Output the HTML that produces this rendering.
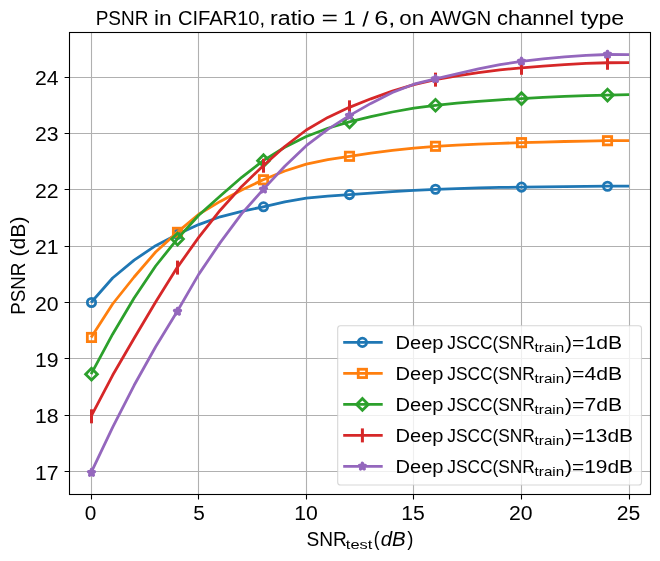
<!DOCTYPE html><html><head><meta charset="utf-8"><style>html,body{margin:0;padding:0;background:#fff;width:660px;height:561px;overflow:hidden}text{font-family:"Liberation Sans",sans-serif}</style></head><body><svg width="660" height="561" viewBox="0 0 660 561" style="display:block;will-change:transform">
<rect width="660" height="561" fill="#ffffff"/>
<path d="M91.50,32.5 V494.5 M198.50,32.5 V494.5 M306.50,32.5 V494.5 M413.50,32.5 V494.5 M521.50,32.5 V494.5 M629.50,32.5 V494.5 M69.5,471.50 H650.5 M69.5,415.50 H650.5 M69.5,358.50 H650.5 M69.5,302.50 H650.5 M69.5,246.50 H650.5 M69.5,189.50 H650.5 M69.5,133.50 H650.5 M69.5,77.50 H650.5" stroke="#b0b0b0" stroke-width="1.1" fill="none"/>
<path d="M91.10,302.50 L112.62,278.00 L134.14,260.10 L155.66,245.70 L177.18,234.39 L198.70,224.60 L220.22,216.80 L241.74,211.40 L263.26,206.81 L284.78,201.98 L306.30,198.20 L327.82,196.15 L349.34,194.59 L370.86,193.04 L392.38,191.56 L413.90,190.27 L435.42,189.30 L456.94,188.58 L478.46,187.97 L499.98,187.48 L521.50,187.11 L543.02,186.80 L564.54,186.53 L586.06,186.32 L607.58,186.20 L629.10,186.20" stroke="#1f77b4" stroke-width="2.78" fill="none" stroke-linejoin="round" stroke-linecap="butt"/>
<circle cx="91.50" cy="302.50" r="4.17" fill="none" stroke="#1f77b4" stroke-width="2.78"/>
<circle cx="177.50" cy="234.39" r="4.17" fill="none" stroke="#1f77b4" stroke-width="2.78"/>
<circle cx="263.50" cy="206.81" r="4.17" fill="none" stroke="#1f77b4" stroke-width="2.78"/>
<circle cx="349.50" cy="194.59" r="4.17" fill="none" stroke="#1f77b4" stroke-width="2.78"/>
<circle cx="435.50" cy="189.30" r="4.17" fill="none" stroke="#1f77b4" stroke-width="2.78"/>
<circle cx="521.50" cy="187.11" r="4.17" fill="none" stroke="#1f77b4" stroke-width="2.78"/>
<circle cx="607.50" cy="186.20" r="4.17" fill="none" stroke="#1f77b4" stroke-width="2.78"/>
<path d="M91.10,337.46 L112.62,304.00 L134.14,277.00 L155.66,252.00 L177.18,232.36 L198.70,214.30 L220.22,201.40 L241.74,189.90 L263.26,179.79 L284.78,170.97 L306.30,164.10 L327.82,159.69 L349.34,156.31 L370.86,153.24 L392.38,150.41 L413.90,148.03 L435.42,146.30 L456.94,145.09 L478.46,144.11 L499.98,143.31 L521.50,142.64 L543.02,142.03 L564.54,141.50 L586.06,141.05 L607.58,140.72 L629.10,140.54" stroke="#ff7f0e" stroke-width="2.78" fill="none" stroke-linejoin="round" stroke-linecap="butt"/>
<rect x="87.33" y="333.29" width="8.33" height="8.33" fill="none" stroke="#ff7f0e" stroke-width="2.78"/>
<rect x="173.34" y="228.20" width="8.33" height="8.33" fill="none" stroke="#ff7f0e" stroke-width="2.78"/>
<rect x="259.33" y="175.62" width="8.33" height="8.33" fill="none" stroke="#ff7f0e" stroke-width="2.78"/>
<rect x="345.33" y="152.15" width="8.33" height="8.33" fill="none" stroke="#ff7f0e" stroke-width="2.78"/>
<rect x="431.33" y="142.13" width="8.33" height="8.33" fill="none" stroke="#ff7f0e" stroke-width="2.78"/>
<rect x="517.34" y="138.47" width="8.33" height="8.33" fill="none" stroke="#ff7f0e" stroke-width="2.78"/>
<rect x="603.34" y="136.56" width="8.33" height="8.33" fill="none" stroke="#ff7f0e" stroke-width="2.78"/>
<path d="M91.10,374.21 L112.62,334.20 L134.14,298.00 L155.66,266.00 L177.18,239.06 L198.70,215.30 L220.22,196.00 L241.74,177.28 L263.26,160.65 L284.78,147.27 L306.30,136.50 L327.82,128.24 L349.34,121.81 L370.86,116.60 L392.38,112.00 L413.90,108.16 L435.42,105.26 L456.94,103.09 L478.46,101.30 L499.98,99.81 L521.50,98.56 L543.02,97.45 L564.54,96.45 L586.06,95.63 L607.58,95.02 L629.10,94.66" stroke="#2ca02c" stroke-width="2.78" fill="none" stroke-linejoin="round" stroke-linecap="butt"/>
<path d="M91.50,368.32 L97.39,374.21 L91.50,380.10 L85.61,374.21 Z" fill="none" stroke="#2ca02c" stroke-width="2.78" stroke-linejoin="miter"/>
<path d="M177.50,233.17 L183.39,239.06 L177.50,244.95 L171.61,239.06 Z" fill="none" stroke="#2ca02c" stroke-width="2.78" stroke-linejoin="miter"/>
<path d="M263.50,154.76 L269.39,160.65 L263.50,166.54 L257.61,160.65 Z" fill="none" stroke="#2ca02c" stroke-width="2.78" stroke-linejoin="miter"/>
<path d="M349.50,115.92 L355.39,121.81 L349.50,127.70 L343.61,121.81 Z" fill="none" stroke="#2ca02c" stroke-width="2.78" stroke-linejoin="miter"/>
<path d="M435.50,99.37 L441.39,105.26 L435.50,111.15 L429.61,105.26 Z" fill="none" stroke="#2ca02c" stroke-width="2.78" stroke-linejoin="miter"/>
<path d="M521.50,92.67 L527.39,98.56 L521.50,104.45 L515.61,98.56 Z" fill="none" stroke="#2ca02c" stroke-width="2.78" stroke-linejoin="miter"/>
<path d="M607.50,89.12 L613.39,95.02 L607.50,100.91 L601.61,95.02 Z" fill="none" stroke="#2ca02c" stroke-width="2.78" stroke-linejoin="miter"/>
<path d="M91.10,416.32 L112.62,375.30 L134.14,338.30 L155.66,302.00 L177.18,267.60 L198.70,237.40 L220.22,210.20 L241.74,186.40 L263.26,165.72 L284.78,146.49 L306.30,130.00 L327.82,117.41 L349.34,107.34 L370.86,98.83 L392.38,91.16 L413.90,84.66 L435.42,79.65 L456.94,75.78 L478.46,72.51 L499.98,69.84 L521.50,67.77 L543.02,66.07 L564.54,64.58 L586.06,63.43 L607.58,62.76 L629.10,62.69" stroke="#d62728" stroke-width="2.78" fill="none" stroke-linejoin="round" stroke-linecap="butt"/>
<path d="M91.50,409.32 V423.32" stroke="#d62728" stroke-width="3.0" fill="none"/>
<path d="M177.50,260.60 V274.60" stroke="#d62728" stroke-width="3.0" fill="none"/>
<path d="M263.50,158.72 V172.72" stroke="#d62728" stroke-width="3.0" fill="none"/>
<path d="M349.50,100.34 V114.34" stroke="#d62728" stroke-width="3.0" fill="none"/>
<path d="M435.50,72.65 V86.65" stroke="#d62728" stroke-width="3.0" fill="none"/>
<path d="M521.50,60.77 V74.77" stroke="#d62728" stroke-width="3.0" fill="none"/>
<path d="M607.50,55.76 V69.76" stroke="#d62728" stroke-width="3.0" fill="none"/>
<path d="M91.10,472.66 L112.62,427.40 L134.14,385.30 L155.66,346.80 L177.18,311.51 L198.70,274.40 L220.22,242.60 L241.74,213.70 L263.26,189.36 L284.78,166.19 L306.30,145.70 L327.82,129.33 L349.34,115.62 L370.86,103.41 L392.38,92.55 L413.90,84.20 L435.42,78.86 L456.94,73.83 L478.46,68.89 L499.98,64.56 L521.50,61.35 L543.02,58.97 L564.54,56.88 L586.06,55.31 L607.58,54.49 L629.10,54.61" stroke="#9467bd" stroke-width="2.78" fill="none" stroke-linejoin="round" stroke-linecap="butt"/>
<path d="M91.50,469.56 L92.20,471.71 L94.45,471.71 L92.63,473.03 L93.32,475.17 L91.50,473.85 L89.68,475.17 L90.37,473.03 L88.55,471.71 L90.80,471.71 Z" fill="#9467bd" stroke="#9467bd" stroke-width="3.4" stroke-linejoin="round"/>
<path d="M177.50,308.41 L178.20,310.55 L180.45,310.55 L178.63,311.87 L179.32,314.01 L177.50,312.69 L175.68,314.01 L176.37,311.87 L174.55,310.55 L176.80,310.55 Z" fill="#9467bd" stroke="#9467bd" stroke-width="3.4" stroke-linejoin="round"/>
<path d="M263.50,186.26 L264.20,188.40 L266.45,188.40 L264.63,189.72 L265.32,191.87 L263.50,190.54 L261.68,191.87 L262.37,189.72 L260.55,188.40 L262.80,188.40 Z" fill="#9467bd" stroke="#9467bd" stroke-width="3.4" stroke-linejoin="round"/>
<path d="M349.50,112.52 L350.20,114.66 L352.45,114.66 L350.63,115.98 L351.32,118.13 L349.50,116.80 L347.68,118.13 L348.37,115.98 L346.55,114.66 L348.80,114.66 Z" fill="#9467bd" stroke="#9467bd" stroke-width="3.4" stroke-linejoin="round"/>
<path d="M435.50,75.76 L436.20,77.90 L438.45,77.90 L436.63,79.23 L437.32,81.37 L435.50,80.04 L433.68,81.37 L434.37,79.23 L432.55,77.90 L434.80,77.90 Z" fill="#9467bd" stroke="#9467bd" stroke-width="3.4" stroke-linejoin="round"/>
<path d="M521.50,58.25 L522.20,60.40 L524.45,60.40 L522.63,61.72 L523.32,63.86 L521.50,62.54 L519.68,63.86 L520.37,61.72 L518.55,60.40 L520.80,60.40 Z" fill="#9467bd" stroke="#9467bd" stroke-width="3.4" stroke-linejoin="round"/>
<path d="M607.50,51.39 L608.20,53.53 L610.45,53.53 L608.63,54.85 L609.32,56.99 L607.50,55.67 L605.68,56.99 L606.37,54.85 L604.55,53.53 L606.80,53.53 Z" fill="#9467bd" stroke="#9467bd" stroke-width="3.4" stroke-linejoin="round"/>
<rect x="69.5" y="32.5" width="581.0" height="462.0" fill="none" stroke="#000" stroke-width="1.1" stroke-linejoin="miter"/>
<path d="M91.50,494.5 V499.4 M198.50,494.5 V499.4 M306.50,494.5 V499.4 M413.50,494.5 V499.4 M521.50,494.5 V499.4 M629.50,494.5 V499.4 M69.5,471.50 H64.6 M69.5,415.50 H64.6 M69.5,358.50 H64.6 M69.5,302.50 H64.6 M69.5,246.50 H64.6 M69.5,189.50 H64.6 M69.5,133.50 H64.6 M69.5,77.50 H64.6" stroke="#000" stroke-width="1.1" fill="none"/>
<g fill="#000">
<text x="58.6" y="480.00" font-size="19.4" text-anchor="end" textLength="23.6" lengthAdjust="spacingAndGlyphs">17</text>
<text x="58.6" y="423.00" font-size="19.4" text-anchor="end" textLength="23.6" lengthAdjust="spacingAndGlyphs">18</text>
<text x="58.6" y="367.00" font-size="19.4" text-anchor="end" textLength="23.6" lengthAdjust="spacingAndGlyphs">19</text>
<text x="58.6" y="311.00" font-size="19.4" text-anchor="end" textLength="23.6" lengthAdjust="spacingAndGlyphs">20</text>
<text x="58.6" y="254.00" font-size="19.4" text-anchor="end" textLength="23.6" lengthAdjust="spacingAndGlyphs">21</text>
<text x="58.6" y="198.00" font-size="19.4" text-anchor="end" textLength="23.6" lengthAdjust="spacingAndGlyphs">22</text>
<text x="58.6" y="141.00" font-size="19.4" text-anchor="end" textLength="23.6" lengthAdjust="spacingAndGlyphs">23</text>
<text x="58.6" y="85.00" font-size="19.4" text-anchor="end" textLength="23.6" lengthAdjust="spacingAndGlyphs">24</text>
<text x="90.60" y="520.0" font-size="19.4" text-anchor="middle" textLength="11.6" lengthAdjust="spacingAndGlyphs">0</text>
<text x="199.05" y="520.0" font-size="19.4" text-anchor="middle" textLength="11.6" lengthAdjust="spacingAndGlyphs">5</text>
<text x="306.10" y="520.0" font-size="19.4" text-anchor="middle" textLength="23.6" lengthAdjust="spacingAndGlyphs">10</text>
<text x="413.00" y="520.0" font-size="19.4" text-anchor="middle" textLength="23.6" lengthAdjust="spacingAndGlyphs">15</text>
<text x="520.70" y="520.0" font-size="19.4" text-anchor="middle" textLength="23.6" lengthAdjust="spacingAndGlyphs">20</text>
<text x="628.50" y="520.0" font-size="19.4" text-anchor="middle" textLength="23.6" lengthAdjust="spacingAndGlyphs">25</text>
<text x="95.63" y="25.00" font-size="19.4" textLength="52.78" lengthAdjust="spacingAndGlyphs">PSNR</text>
<text x="154.01" y="25.00" font-size="19.4" textLength="17.70" lengthAdjust="spacingAndGlyphs">in</text>
<text x="177.93" y="25.00" font-size="19.4" textLength="87.21" lengthAdjust="spacingAndGlyphs">CIFAR10,</text>
<text x="269.97" y="25.00" font-size="19.4" textLength="45.21" lengthAdjust="spacingAndGlyphs">ratio</text>
<text x="321.58" y="25.00" font-size="19.4" textLength="16.47" lengthAdjust="spacingAndGlyphs">=</text>
<text x="343.38" y="25.00" font-size="19.4" textLength="12.53" lengthAdjust="spacingAndGlyphs">1</text>
<text x="374.23" y="25.00" font-size="19.4" textLength="21.11" lengthAdjust="spacingAndGlyphs">6,</text>
<text x="399.38" y="25.00" font-size="19.4" textLength="24.96" lengthAdjust="spacingAndGlyphs">on</text>
<text x="429.67" y="25.00" font-size="19.4" textLength="61.61" lengthAdjust="spacingAndGlyphs">AWGN</text>
<text x="497.01" y="25.00" font-size="19.4" textLength="76.80" lengthAdjust="spacingAndGlyphs">channel</text>
<text x="580.47" y="25.00" font-size="19.4" textLength="43.78" lengthAdjust="spacingAndGlyphs">type</text>
<text x="306.57" y="545.80" font-size="19.4" textLength="40.36" lengthAdjust="spacingAndGlyphs">SNR</text>
<text x="345.87" y="548.80" font-size="13.6" textLength="26.50" lengthAdjust="spacingAndGlyphs">test</text>
<text x="373.76" y="545.80" font-size="19.4" textLength="5.74" lengthAdjust="spacingAndGlyphs">(</text>
<text x="380.72" y="545.80" font-size="19.4" font-style="italic" textLength="24.93" lengthAdjust="spacingAndGlyphs">dB</text>
<text x="407.35" y="545.80" font-size="19.4" textLength="6.16" lengthAdjust="spacingAndGlyphs">)</text>
<text transform="translate(25.0,314.0) rotate(-90)" x="-0.84" y="0" font-size="19.4" textLength="52.14" lengthAdjust="spacingAndGlyphs">PSNR</text>
<text transform="translate(25.0,314.0) rotate(-90)" x="57.60" y="0" font-size="19.4" textLength="39.86" lengthAdjust="spacingAndGlyphs">(dB)</text>
<path d="M366.95,11.3 L368.8,11.3 L364.2,26.4 L362.35,26.4 Z" fill="#000"/>
</g>
<rect x="337.7" y="325.7" width="303.80" height="159.30" rx="2.8" ry="2.8" fill="#ffffff" fill-opacity="0.8" stroke="#cccccc" stroke-opacity="0.8" stroke-width="1.1"/>
<path d="M343.2,342.40 H382.7" stroke="#1f77b4" stroke-width="2.78" fill="none"/>
<circle cx="362.40" cy="342.40" r="4.17" fill="none" stroke="#1f77b4" stroke-width="2.78"/>
<path d="M343.2,373.40 H382.7" stroke="#ff7f0e" stroke-width="2.78" fill="none"/>
<rect x="358.23" y="369.23" width="8.33" height="8.33" fill="none" stroke="#ff7f0e" stroke-width="2.78"/>
<path d="M343.2,404.40 H382.7" stroke="#2ca02c" stroke-width="2.78" fill="none"/>
<path d="M362.40,398.51 L368.29,404.40 L362.40,410.29 L356.51,404.40 Z" fill="none" stroke="#2ca02c" stroke-width="2.78" stroke-linejoin="miter"/>
<path d="M343.2,435.40 H382.7" stroke="#d62728" stroke-width="2.78" fill="none"/>
<path d="M362.40,428.40 V442.40" stroke="#d62728" stroke-width="3.0" fill="none"/>
<path d="M343.2,466.40 H382.7" stroke="#9467bd" stroke-width="2.78" fill="none"/>
<path d="M362.40,463.30 L363.10,465.44 L365.35,465.44 L363.53,466.77 L364.22,468.91 L362.40,467.58 L360.58,468.91 L361.27,466.77 L359.45,465.44 L361.70,465.44 Z" fill="#9467bd" stroke="#9467bd" stroke-width="3.4" stroke-linejoin="round"/>
<g fill="#000">
<text x="395.57" y="348.80" font-size="18.0" textLength="47.90" lengthAdjust="spacingAndGlyphs">Deep</text>
<text x="447.23" y="348.80" font-size="18.0" textLength="87.69" lengthAdjust="spacingAndGlyphs">JSCC(SNR</text>
<text x="534.61" y="351.80" font-size="12.6" textLength="29.55" lengthAdjust="spacingAndGlyphs">train</text>
<text x="565.00" y="348.80" font-size="18.0" textLength="57.20" lengthAdjust="spacingAndGlyphs">)=1dB</text>
<text x="395.57" y="379.80" font-size="18.0" textLength="47.90" lengthAdjust="spacingAndGlyphs">Deep</text>
<text x="447.23" y="379.80" font-size="18.0" textLength="87.69" lengthAdjust="spacingAndGlyphs">JSCC(SNR</text>
<text x="534.61" y="382.80" font-size="12.6" textLength="29.55" lengthAdjust="spacingAndGlyphs">train</text>
<text x="565.00" y="379.80" font-size="18.0" textLength="57.20" lengthAdjust="spacingAndGlyphs">)=4dB</text>
<text x="395.57" y="410.80" font-size="18.0" textLength="47.90" lengthAdjust="spacingAndGlyphs">Deep</text>
<text x="447.23" y="410.80" font-size="18.0" textLength="87.69" lengthAdjust="spacingAndGlyphs">JSCC(SNR</text>
<text x="534.61" y="413.80" font-size="12.6" textLength="29.55" lengthAdjust="spacingAndGlyphs">train</text>
<text x="565.00" y="410.80" font-size="18.0" textLength="57.20" lengthAdjust="spacingAndGlyphs">)=7dB</text>
<text x="395.57" y="441.80" font-size="18.0" textLength="47.90" lengthAdjust="spacingAndGlyphs">Deep</text>
<text x="447.23" y="441.80" font-size="18.0" textLength="87.69" lengthAdjust="spacingAndGlyphs">JSCC(SNR</text>
<text x="534.61" y="444.80" font-size="12.6" textLength="29.55" lengthAdjust="spacingAndGlyphs">train</text>
<text x="565.02" y="441.80" font-size="18.0" textLength="68.07" lengthAdjust="spacingAndGlyphs">)=13dB</text>
<text x="395.57" y="472.80" font-size="18.0" textLength="47.90" lengthAdjust="spacingAndGlyphs">Deep</text>
<text x="447.23" y="472.80" font-size="18.0" textLength="87.69" lengthAdjust="spacingAndGlyphs">JSCC(SNR</text>
<text x="534.61" y="475.80" font-size="12.6" textLength="29.55" lengthAdjust="spacingAndGlyphs">train</text>
<text x="565.02" y="472.80" font-size="18.0" textLength="68.07" lengthAdjust="spacingAndGlyphs">)=19dB</text>
</g>
</svg></body></html>
